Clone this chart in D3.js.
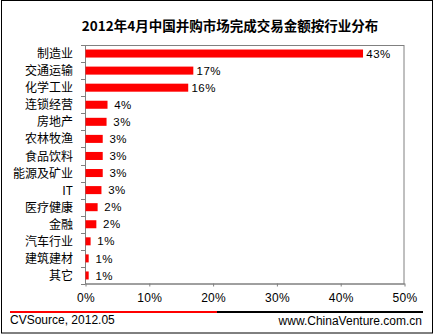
<!DOCTYPE html>
<html>
<head>
<meta charset="utf-8">
<script src="https://cdn.jsdelivr.net/npm/d3@7"></script>
<style>
  html, body { margin: 0; padding: 0; background: #fff; }
  svg { display: block; }
</style>
</head>
<body>
<svg id="chart" width="435" height="335"></svg>
<script>
const titleText = "2012年4月中国并购市场完成交易金额按行业分布";
const categories = ["制造业","交通运输","化学工业","连锁经营","房地产","农林牧渔","食品饮料","能源及矿业","IT","医疗健康","金融","汽车行业","建筑建材","其它"];
const values = [43.5, 16.9, 16.1, 3.45, 3.3, 2.7, 2.7, 2.7, 2.5, 1.9, 1.7, 0.8, 0.5, 0.5];
const valueLabels = ["43%","17%","16%","4%","3%","3%","3%","3%","3%","2%","2%","1%","1%","1%"];
const xTicks = [0, 10, 20, 30, 40, 50];
const sourceText = "CVSource, 2012.05";
const siteText = "www.ChinaVenture.com.cn";

const svg = d3.select("#chart");
const plot = {left: 85, right: 404, top: 45, bottom: 284};

// outer border
svg.append("rect").attr("x", 1.5).attr("y", 0.5).attr("width", 431).attr("height", 332.5)
  .attr("fill", "#fff").attr("stroke", "#000").attr("stroke-width", 1);

// title
svg.append("text").attr("x", 230).attr("y", 31).attr("text-anchor", "middle")
  .attr("font-family", "'Noto Sans CJK SC', sans-serif").attr("font-weight", "bold")
  .attr("font-size", "13.5px").attr("fill", "#000").text(titleText);

const x = d3.scaleLinear().domain([0, 50]).range([plot.left, plot.right]);
const y = d3.scaleBand().domain(categories).range([plot.top, plot.bottom]).paddingInner(0.53).paddingOuter(0.265);

// plot frame
svg.append("rect").attr("x", plot.left + 0.5).attr("y", plot.top + 0.5)
  .attr("width", plot.right - plot.left - 0.5).attr("height", plot.bottom - plot.top - 0.5)
  .attr("fill", "none").attr("stroke", "#808080").attr("stroke-width", 1);

// bars
svg.append("g").selectAll("rect").data(categories).join("rect")
  .attr("x", x(0) + 0.5)
  .attr("y", d => y(d))
  .attr("width", (d, i) => x(values[i]) - x(0))
  .attr("height", y.bandwidth())
  .attr("fill", "#ff0000");

// value labels
svg.append("g").selectAll("text").data(categories).join("text")
  .attr("x", (d, i) => x(values[i]) + 16)
  .attr("y", d => y(d) + y.bandwidth() / 2)
  .attr("dy", "0.36em")
  .attr("text-anchor", "middle")
  .attr("font-family", "'Liberation Sans', Arial, sans-serif")
  .attr("font-size", "11.5px").attr("letter-spacing", "0.5px").attr("fill", "#000")
  .text((d, i) => valueLabels[i]);

// y axis: ticks at band boundaries
const yAxisG = svg.append("g");
const bounds = d3.range(categories.length + 1).map(i => plot.top + i * (plot.bottom - plot.top) / categories.length);
yAxisG.selectAll("line.tk").data(bounds).join("line")
  .attr("x1", plot.left - 4).attr("x2", plot.left + 0.5)
  .attr("y1", d => Math.round(d) + 0.5).attr("y2", d => Math.round(d) + 0.5)
  .attr("stroke", "#808080");
yAxisG.selectAll("text").data(categories).join("text")
  .attr("x", 73).attr("y", d => y(d) + y.bandwidth() / 2).attr("dy", "0.38em")
  .attr("text-anchor", "end")
  .attr("font-family", "'Noto Sans CJK SC', sans-serif").attr("font-size", "12px").attr("fill", "#000")
  .text(d => d);

// x axis
const xAxis = d3.axisBottom(x).tickValues(xTicks).tickFormat(d => d + "%").tickSize(3).tickSizeOuter(0);
const xg = svg.append("g").attr("transform", `translate(0.5,${plot.bottom - 0.5})`).call(xAxis);
xg.select(".domain").attr("stroke", "#808080");
xg.selectAll(".tick line").attr("stroke", "#808080");
xg.selectAll(".tick text").attr("font-family", "'Liberation Sans', Arial, sans-serif")
  .attr("font-size", "12px").attr("fill", "#000").attr("dy", "0").attr("y", 18).attr("letter-spacing", "0.3px");

// footer lines
svg.append("line").attr("x1", 217).attr("x2", 423).attr("y1", 312).attr("y2", 312)
  .attr("stroke", "#000").attr("stroke-width", 2);
svg.append("line").attr("x1", 10).attr("x2", 217).attr("y1", 312).attr("y2", 312)
  .attr("stroke", "#ff0000").attr("stroke-width", 2);

svg.append("text").attr("x", 10).attr("y", 324)
  .attr("font-family", "'Liberation Sans', Arial, sans-serif").attr("font-size", "12px").attr("fill", "#000")
  .text(sourceText);
svg.append("text").attr("x", 422).attr("y", 325).attr("text-anchor", "end")
  .attr("font-family", "'Liberation Sans', Arial, sans-serif").attr("font-size", "12px").attr("fill", "#000")
  .text(siteText);
</script>
</body>
</html>
